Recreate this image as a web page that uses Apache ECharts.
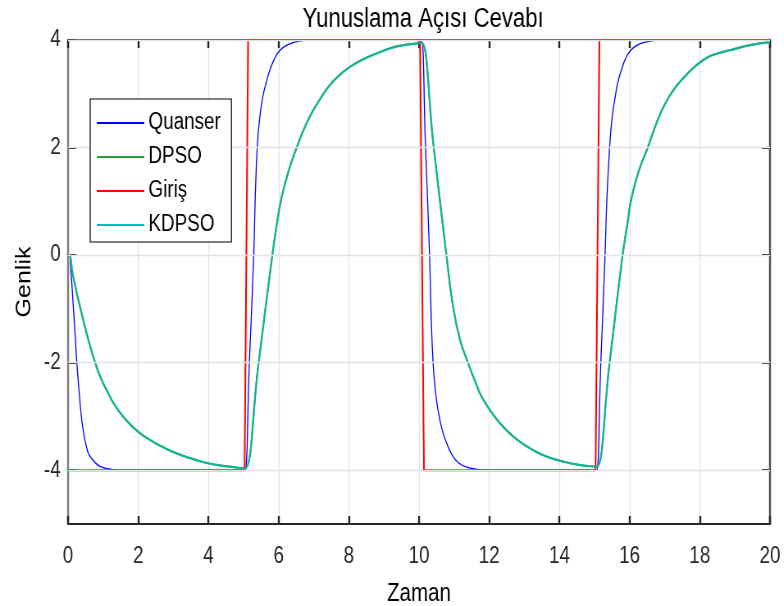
<!DOCTYPE html>
<html>
<head>
<meta charset="utf-8">
<script src="https://cdn.jsdelivr.net/npm/echarts@6/dist/echarts.min.js"></script>
<style>
  html, body { margin: 0; padding: 0; background: #fff; overflow: hidden; }
  #wrap { width: 784px; height: 606px; overflow: hidden; }
  /* the reference is horizontally squeezed (narrow text), so draw wide and squeeze */
  #chart { width: 956px; height: 606px; transform: scaleX(0.82); transform-origin: 0 0; }
</style>
</head>
<body>
<div id="wrap"><div id="chart"></div></div>
<script>
// Values (time in s, amplitude)
const yTicks = [-4, -2, 0, 2, 4]

// Giriş (input square wave)
const girisT = [0, 5.03, 5.13, 10.03, 10.14, 15.03, 15.14, 20]
const girisV = [-4, -4, 4, 4, -4, -4, 4, 4]

// Quanser response
const quanserT = [0, 0.03, 0.085, 0.15, 0.21, 0.25, 0.31, 0.38, 0.43, 0.48, 0.53, 0.58, 0.65, 0.72, 0.86, 1.0, 1.2, 1.6, 5.0, 5.04,
    5.165, 5.29, 5.33, 5.39, 5.46, 5.55, 5.65, 5.75, 5.88, 6.04, 6.25, 6.52, 6.9, 10.03, 10.07,
    10.185, 10.3, 10.34, 10.4, 10.47, 10.56, 10.66, 10.79, 10.93, 11.12, 11.4, 11.93, 15.02, 15.06,
    15.18, 15.3, 15.35, 15.43, 15.5, 15.58, 15.66, 15.76, 15.88, 16.02, 16.2, 16.45, 16.9, 20]
const quanserV = [0, 0, -0.34, -0.96, -1.58, -2.0, -2.51, -3.01, -3.25, -3.44, -3.58, -3.69, -3.76, -3.82, -3.91, -3.95, -3.98, -4.0, -4.0, -4.0,
    -2.0, 0, 1.0, 2.01, 2.55, 2.95, 3.22, 3.44, 3.65, 3.81, 3.91, 3.97, 4.0, 4.0, 4.0,
    2.0, 0, -1.0, -2.0, -2.55, -2.95, -3.25, -3.5, -3.7, -3.86, -3.95, -4.0, -4.0, -4.0,
    -2.0, 0, 1.0, 2.0, 2.55, 2.9, 3.2, 3.43, 3.65, 3.8, 3.9, 3.96, 4.0, 4.0]

// KDPSO response
const kdpsoT = [0, 0.03, 0.13, 0.22, 0.34, 0.46, 0.58, 0.77, 0.93, 1.1, 1.33, 1.58, 1.95, 2.34, 2.7, 3.1, 3.55, 4.05, 4.55, 5.0, 5.04,
    5.43, 5.82, 5.95, 6.09, 6.3, 6.52, 6.72, 6.94, 7.18, 7.42, 7.7, 8.03, 8.4, 8.79, 9.36, 10.03, 10.07,
    10.42, 10.78, 10.98, 11.18, 11.4, 11.6, 11.79, 12.15, 12.5, 12.85, 13.26, 13.65, 14.11, 14.55, 15.02, 15.06,
    15.43, 15.8, 15.93, 16.05, 16.28, 16.53, 16.75, 17.0, 17.25, 17.53, 17.85, 18.2, 18.5, 18.86, 19.4, 20]
const kdpsoV = [0, 0, -0.34, -0.62, -0.96, -1.28, -1.58, -2.0, -2.28, -2.51, -2.79, -3.01, -3.26, -3.44, -3.57, -3.69, -3.79, -3.88, -3.93, -3.965, -3.97,
    -2.0, 0, 0.58, 1.09, 1.6, 2.01, 2.34, 2.64, 2.9, 3.13, 3.33, 3.5, 3.64, 3.75, 3.88, 3.945, 3.95,
    2.0, 0, -1.0, -1.6, -2.01, -2.35, -2.64, -3.0, -3.26, -3.46, -3.63, -3.75, -3.84, -3.9, -3.935, -3.94,
    -2.0, 0, 0.55, 1.05, 1.6, 2.02, 2.43, 2.8, 3.07, 3.29, 3.5, 3.67, 3.75, 3.81, 3.9, 3.96]

// DPSO lies exactly under KDPSO in the picture
const dpsoT = kdpsoT
const dpsoV = kdpsoV

const pairs = (t, v) => t.map((x, i) => [x, v[i]])

const font = "'Liberation Sans', Arial, sans-serif"
const axisColor = '#262626'
const gridColor = '#e3e3e3'

const chart = echarts.init(document.getElementById('chart'), null, { renderer: 'canvas' })

const xTick = { show: true, inside: true, length: 8, lineStyle: { color: axisColor, width: 2.4 } }
const yTick = { show: true, inside: true, length: 10, customValues: yTicks, lineStyle: { color: axisColor, width: 2 } }

chart.setOption({
    animation: false,
    backgroundColor: '#fff',
    title: {
        text: 'Yunuslama Açısı Cevabı',
        left: 511,
        top: 1,
        textAlign: 'center',
        textStyle: { fontFamily: font, fontSize: 27, fontWeight: 'normal', color: '#000' }
    },
    legend: {
        data: ['Quanser', 'DPSO', 'Giriş', 'KDPSO'],
        orient: 'vertical',
        left: 110,
        top: 99,
        padding: [12, 13, 5, 8],
        icon: 'path://M0,0 L58,0 L58,2 L0,2 Z',
        itemWidth: 58,
        itemHeight: 2,
        itemGap: 10,
        itemTextGap: 7,
        backgroundColor: '#fff',
        borderColor: '#000',
        borderWidth: 1.2,
        z: 10,
        textStyle: { fontFamily: font, fontSize: 23, color: '#000', lineHeight: 24 }
    },
    grid: { left: 83, right: 17, top: 40, bottom: 82, outerBoundsMode: 'none', containLabel: false },
    xAxis: [
        {
            type: 'value',
            min: 0,
            max: 20,
            interval: 2,
            name: 'Zaman',
            nameLocation: 'middle',
            nameGap: 58,
            nameTextStyle: { fontFamily: font, fontSize: 25, color: '#000' },
            axisLine: { show: true, onZero: false, lineStyle: { color: axisColor, width: 2 } },
            axisTick: xTick,
            axisLabel: { margin: 21, fontFamily: font, fontSize: 23, color: axisColor },
            splitLine: { show: true, lineStyle: { color: gridColor, width: 1.3 } }
        },
        {
            type: 'value',
            position: 'top',
            min: 0,
            max: 20,
            interval: 2,
            axisLine: { show: true, onZero: false, lineStyle: { color: '#4d4d4d', width: 2 } },
            axisTick: xTick,
            axisLabel: { show: false },
            splitLine: { show: false }
        }
    ],
    yAxis: [
        {
            type: 'value',
            min: -5,
            max: 4,
            interval: 1,
            name: 'Genlik',
            nameLocation: 'middle',
            nameGap: 38,
            nameTextStyle: { fontFamily: font, fontSize: 25, color: '#000' },
            axisLine: { show: true, onZero: false, lineStyle: { color: '#7f7f7f', width: 2.4 } },
            axisTick: yTick,
            axisLabel: {
                margin: 9,
                fontFamily: font,
                fontSize: 23,
                color: axisColor,
                formatter: v => (yTicks.indexOf(v) >= 0 ? String(v) : '')
            },
            splitLine: { show: false }
        },
        {
            type: 'value',
            position: 'right',
            min: -5,
            max: 4,
            interval: 1,
            axisLine: { show: true, onZero: false, lineStyle: { color: '#4d4d4d', width: 2.4 } },
            axisTick: yTick,
            axisLabel: { show: false },
            splitLine: { show: false }
        }
    ],
    series: [
        {
            // horizontal grid lines at the labelled ticks
            name: 'grid',
            type: 'line',
            data: [],
            z: 1,
            markLine: {
                silent: true,
                symbol: ['none', 'none'],
                label: { show: false },
                lineStyle: { color: gridColor, width: 1.3, type: 'solid' },
                data: yTicks.map(v => ({ yAxis: v }))
            }
        },
        {
            name: 'Quanser',
            type: 'line',
            data: pairs(quanserT, quanserV),
            symbol: 'none',
            smooth: 0.5,
            clip: false,
            z: 2,
            color: '#0000ff',
            lineStyle: { color: '#0000ff', width: 1.3 }
        },
        {
            name: 'DPSO',
            type: 'line',
            data: pairs(dpsoT, dpsoV),
            symbol: 'none',
            smooth: 0.5,
            clip: false,
            z: 2,
            color: '#339933',
            lineStyle: { color: '#339933', width: 2.2 }
        },
        {
            name: 'Giriş',
            type: 'line',
            data: pairs(girisT, girisV),
            symbol: 'none',
            clip: false,
            z: 3,
            color: '#ff0000',
            lineStyle: { color: '#ff0000', width: 2 }
        },
        {
            name: 'KDPSO',
            type: 'line',
            data: pairs(kdpsoT, kdpsoV),
            symbol: 'none',
            smooth: 0.5,
            clip: false,
            z: 3,
            color: '#00bfbf',
            lineStyle: { color: '#00bfbf', width: 2, opacity: 0.75 }
        }
    ]
})
</script>
</body>
</html>
